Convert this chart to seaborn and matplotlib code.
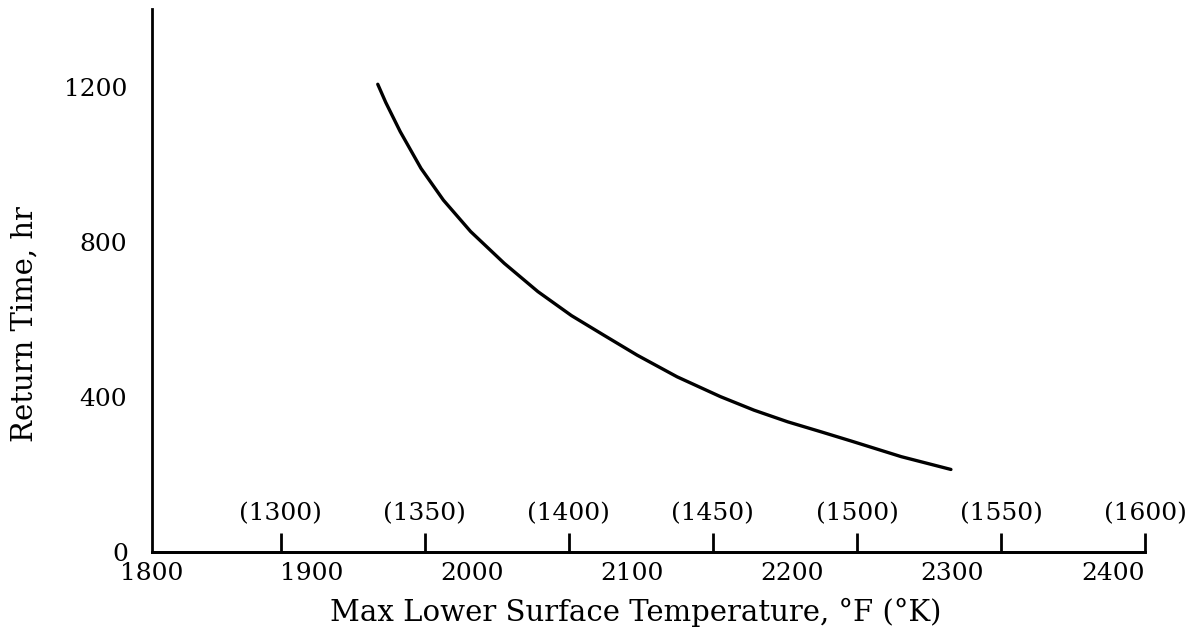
import matplotlib
matplotlib.use("Agg")
import matplotlib.pyplot as plt
import seaborn as sns

# Return time versus maximum lower-surface temperature
temp_f = [1941, 1946, 1955, 1968, 1982, 1999, 2020, 2041, 2062, 2082,
          2103, 2128, 2155, 2176, 2197, 2218, 2237, 2268, 2299]
hours = [1207, 1160, 1085, 990, 908, 827, 745, 672, 610, 560,
         508, 452, 401, 366, 336, 310, 286, 246, 213]

f_ticks = [1800, 1900, 2000, 2100, 2200, 2300, 2400]
k_ticks = [1300, 1350, 1400, 1450, 1500, 1550, 1600]
y_ticks = [0, 400, 800, 1200]


def f_to_k(f):
    return (f + 459.67) / 1.8


def k_to_f(k):
    return k * 1.8 - 459.67


sns.set_theme(style="white")
plt.rcParams["font.family"] = ["DejaVu Serif"]
plt.rcParams["text.color"] = "black"
plt.rcParams["axes.labelcolor"] = "black"

fig = plt.figure(figsize=(11.98, 6.4), dpi=100)
ax = fig.add_axes([0.1269, 0.1375, 0.829, 0.8477])

sns.lineplot(x=temp_f, y=hours, color="black", linewidth=2.4, ax=ax)
ax.lines[0].set_solid_joinstyle("round")

ax.set_xlim(1800, k_to_f(1600))
ax.set_ylim(0, 1400)

for side in ("top", "right"):
    ax.spines[side].set_visible(False)
for side in ("left", "bottom"):
    ax.spines[side].set_color("black")
    ax.spines[side].set_linewidth(2.0)

# Fahrenheit scale: short ticks crossing the axis, labels below
ax.set_xticks(f_ticks)
ax.set_xticklabels([str(v) for v in f_ticks])
ax.tick_params(axis="x", direction="inout", length=11, width=1.8,
               colors="black", labelcolor="black", labelsize=18, pad=2)

# Return-time scale
ax.set_yticks(y_ticks)
ax.set_yticklabels([str(v) for v in y_ticks])
ax.tick_params(axis="y", direction="out", length=16, width=2.0,
               colors="black", labelcolor="black", labelsize=18, pad=2)
zero_tick = ax.yaxis.get_major_ticks()[0]
zero_tick.tick1line.set_markersize(4)
zero_tick.set_pad(1)

# Kelvin scale: upward ticks on the same baseline, labels in parentheses above
sec = ax.secondary_xaxis(0.0, functions=(f_to_k, k_to_f))
sec.set_alignment("top")
sec.set_xticks(k_ticks)
sec.set_xticklabels([f"({v})" for v in k_ticks])
sec.tick_params(axis="x", direction="out", length=14, width=2.0,
                colors="black", labelcolor="black", labelsize=18, pad=5)
sec.spines["top"].set_linewidth(2.0)
sec.spines["top"].set_color("black")

ax.set_xlabel("Max Lower Surface Temperature, °F (°K)", fontsize=21,
              color="black")
ax.xaxis.set_label_coords(0.487, -0.085)
ax.set_ylabel("Return Time, hr", fontsize=21, color="black")
ax.yaxis.set_label_coords(-0.114, 0.42)

fig.savefig("out.png", dpi=100, facecolor="white")
